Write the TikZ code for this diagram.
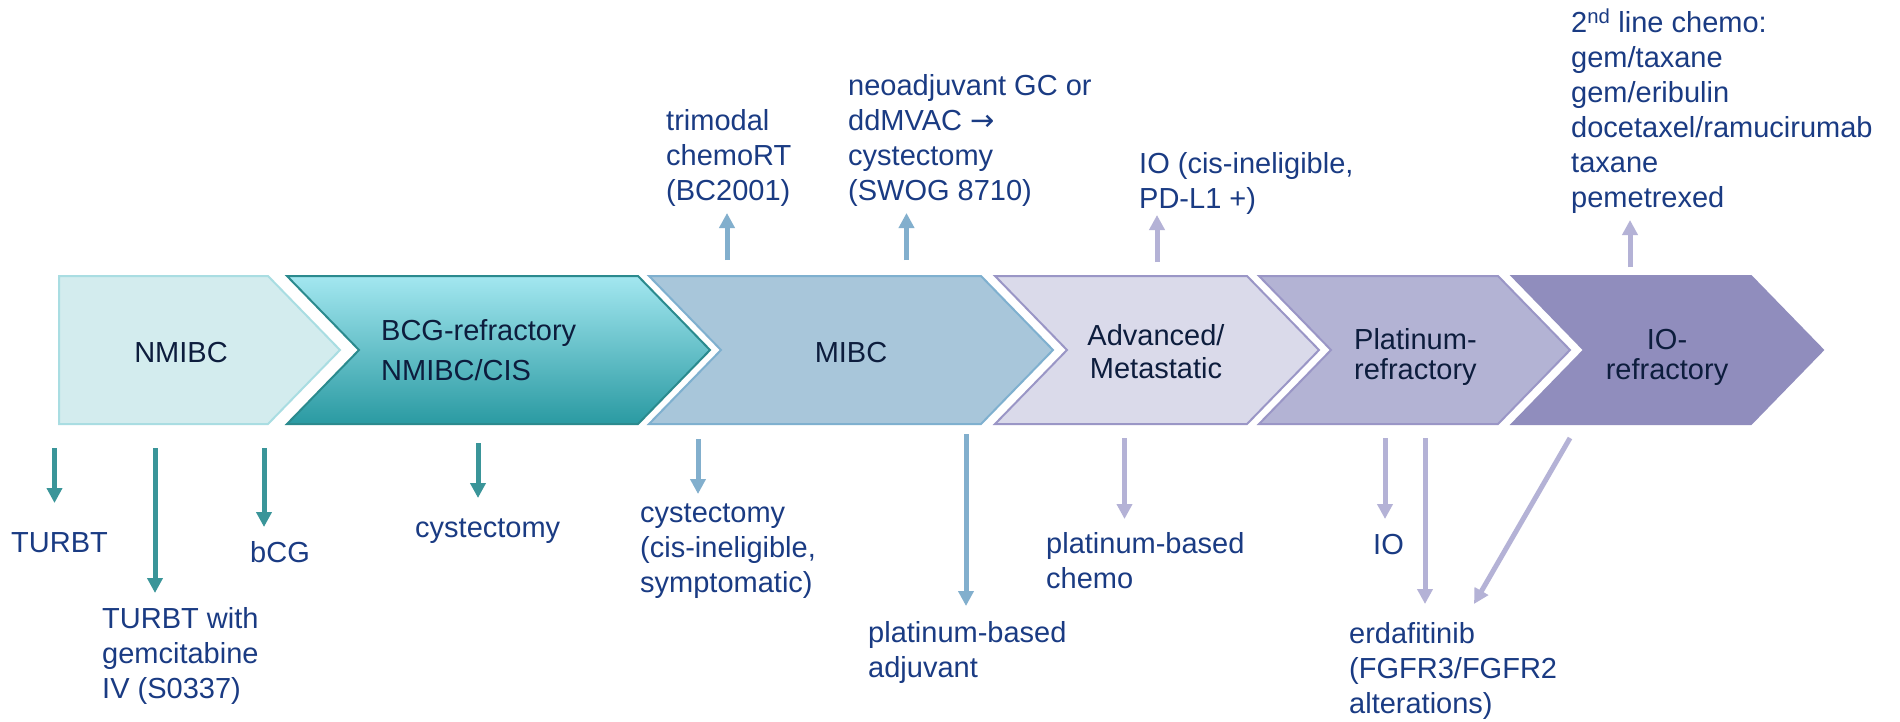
\documentclass[tikz,border=0pt]{standalone}
\usepackage{fontspec}
\setmainfont{Liberation Sans}
\newfontfamily\arrowfont{DejaVu Sans}
\usetikzlibrary{arrows.meta}
\definecolor{txtout}{HTML}{1A3B83}
\definecolor{txtin}{HTML}{0D1D3D}
\definecolor{fillA}{HTML}{D3ECEE}
\definecolor{drawA}{HTML}{A9DDE2}
\definecolor{bcgTop}{HTML}{A3E7F0}
\definecolor{bcgBot}{HTML}{2A9AA2}
\definecolor{drawB}{HTML}{2B8A8E}
\definecolor{fillC}{HTML}{A8C6DA}
\definecolor{drawC}{HTML}{7FB0CF}
\definecolor{fillD}{HTML}{DADAEA}
\definecolor{drawD}{HTML}{9A96C6}
\definecolor{fillE}{HTML}{B3B3D4}
\definecolor{fillF}{HTML}{908DBD}
\definecolor{arrTeal}{HTML}{3A9599}
\definecolor{arrSteel}{HTML}{82AFCD}
\definecolor{arrLav}{HTML}{B4B2D6}
\newcommand\firstln{\rule{0pt}{24pt}}
\begin{document}
\begin{tikzpicture}[x=1pt,y=-1pt,
  chev/.style={line width=2pt,line join=miter},
  arrbase/.style={line width=5pt,-{Triangle[width=15pt,length=15pt]}},
  arrT/.style={arrbase,draw=arrTeal,arrTeal},
  arrS/.style={arrbase,draw=arrSteel,arrSteel},
  arrL/.style={arrbase,draw=arrLav,arrLav},
  lab/.style={text=txtout,align=left,anchor=north west,inner sep=0pt,font=\fontsize{29}{35}\selectfont},
  inlab/.style={text=txtin,inner sep=0pt,font=\fontsize{29}{35}\selectfont}]
\useasboundingbox (0,0) rectangle (1900,721);
\fill[white] (0,0) rectangle (1900,721);

% chevrons
\fill[fillA] (59,276) -- (268,276) -- (340,350) -- (268,424) -- (59,424) -- cycle;
\draw[chev,drawA] (59,276) -- (268,276) -- (340,350) -- (268,424) -- (59,424) -- cycle;
\shade[top color=bcgTop,bottom color=bcgBot] (287,276) -- (638,276) -- (710,350) -- (638,424) -- (287,424) -- (359,350) -- cycle;
\draw[chev,drawB] (287,276) -- (638,276) -- (710,350) -- (638,424) -- (287,424) -- (359,350) -- cycle;
\filldraw[chev,fill=fillC,draw=drawC] (649,276) -- (981,276) -- (1053,350) -- (981,424) -- (649,424) -- (721,350) -- cycle;
\filldraw[chev,fill=fillD,draw=drawD] (995,276) -- (1247,276) -- (1319,350) -- (1247,424) -- (995,424) -- (1067,350) -- cycle;
\filldraw[chev,fill=fillE,draw=drawD] (1259,276) -- (1498,276) -- (1570,350) -- (1498,424) -- (1259,424) -- (1331,350) -- cycle;
\filldraw[chev,fill=fillF,draw=fillF] (1512,276) -- (1751,276) -- (1823,350) -- (1751,424) -- (1512,424) -- (1584,350) -- cycle;

% in-box labels
\node[inlab,anchor=base] (nmibc) at (181,362) {NMIBC};
\node[inlab,anchor=north west,align=left,font=\fontsize{29}{40}\selectfont] (bcg) at (381,316) {\firstln BCG-refractory\\NMIBC/CIS};
\node[inlab,anchor=base] (mibc) at (851,362) {MIBC};
\node[inlab,anchor=north,align=center,font=\fontsize{29}{33}\selectfont] (adv) at (1156,321) {\firstln Advanced/\\Metastatic};
\node[inlab,anchor=north west,align=left,font=\fontsize{29}{30}\selectfont] (plat) at (1354,325) {\firstln Platinum-\\refractory};
\node[inlab,anchor=north,align=center,font=\fontsize{29}{30}\selectfont] (ior) at (1667,325) {\firstln IO-\\refractory};

% outside labels
\node[lab] (turbt) at (11,528) {\firstln TURBT};
\node[lab] (turbtg) at (102,604) {\firstln TURBT with\\gemcitabine\\IV (S0337)};
\node[lab] (bcgt) at (250,538) {\firstln bCG};
\node[lab] (cyst1) at (415,513) {\firstln cystectomy};
\node[lab] (cyst2) at (640,498) {\firstln cystectomy\\(cis-ineligible,\\symptomatic)};
\node[lab] (adj) at (868,618) {\firstln platinum-based\\adjuvant};
\node[lab] (chemo) at (1046,529) {\firstln platinum-based\\chemo};
\node[lab] (io) at (1373,530) {\firstln IO};
\node[lab] (erda) at (1349,619) {\firstln erdafitinib\\(FGFR3/FGFR2\\alterations)};
\node[lab] (tri) at (666,106) {\firstln trimodal\\chemoRT\\(BC2001)};
\node[lab] (neo) at (848,71) {\firstln neoadjuvant GC or\\ddMVAC {\arrowfont →}\\cystectomy\\(SWOG 8710)};
\node[lab] (ioup) at (1139,149) {\firstln IO (cis-ineligible,\\PD-L1 +)};
\node[lab] (second) at (1571,8) {\firstln 2\textsuperscript{nd} line chemo:\\gem/taxane\\gem/eribulin\\docetaxel/ramucirumab\\taxane\\pemetrexed};

% arrow end points
\coordinate (a1s) at (54.5,448);  \coordinate (a1e) at (54.5,503);
\coordinate (a2s) at (155,448);   \coordinate (a2e) at (155,593);
\coordinate (a3s) at (264,448);   \coordinate (a3e) at (264,527);
\coordinate (a4s) at (478,443);   \coordinate (a4e) at (478,498);
\coordinate (a5s) at (698,439);   \coordinate (a5e) at (698,494);
\coordinate (a6s) at (966,434);   \coordinate (a6e) at (966,606);
\coordinate (u1s) at (727,260);   \coordinate (u1e) at (727,213);
\coordinate (u2s) at (906.5,260); \coordinate (u2e) at (906.5,213);
\coordinate (a7s) at (1124.5,438);\coordinate (a7e) at (1124.5,519);
\coordinate (a8s) at (1385,438);  \coordinate (a8e) at (1385,519);
\coordinate (a9s) at (1425,438);  \coordinate (a9e) at (1425,604);
\coordinate (a10s) at (1570,438); \coordinate (a10e) at (1474,604);
\coordinate (u3s) at (1157,262);  \coordinate (u3e) at (1157,215);
\coordinate (u4s) at (1630,267);  \coordinate (u4e) at (1630,220);

\draw[arrT] (a1s) -- (a1e);
\draw[arrT] (a2s) -- (a2e);
\draw[arrT] (a3s) -- (a3e);
\draw[arrT] (a4s) -- (a4e);
\draw[arrS] (a5s) -- (a5e);
\draw[arrS] (a6s) -- (a6e);
\draw[arrS] (u1s) -- (u1e);
\draw[arrS] (u2s) -- (u2e);
\draw[arrL] (a7s) -- (a7e);
\draw[arrL] (a8s) -- (a8e);
\draw[arrL] (a9s) -- (a9e);
\draw[arrL] (a10s) -- (a10e);
\draw[arrL] (u3s) -- (u3e);
\draw[arrL] (u4s) -- (u4e);
\end{tikzpicture}
\end{document}
